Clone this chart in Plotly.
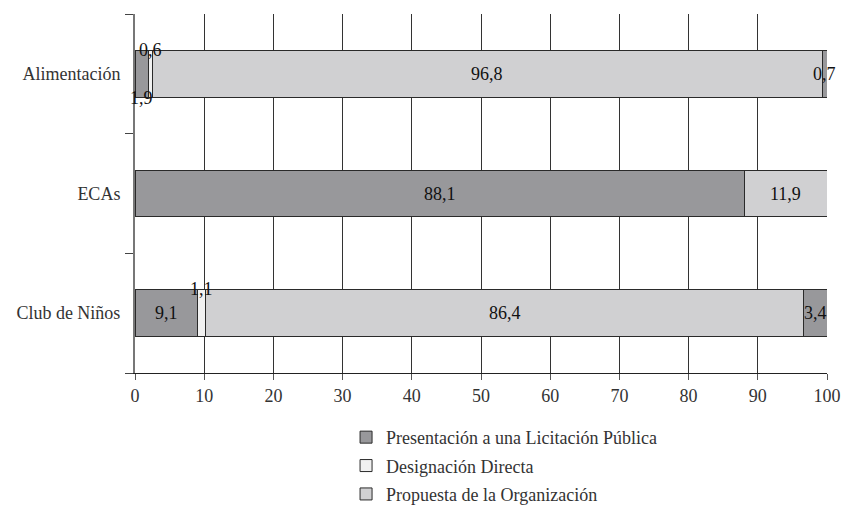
import plotly.graph_objects as go

# Modalidad de asignación por programa (porcentajes)
categories = ["Alimentación", "ECAs", "Club de Niños"]
licitacion = [1.9, 88.1, 9.1]
designacion = [0.6, 0.0, 1.1]
propuesta = [96.8, 11.9, 86.4]
otros = [0.7, 0.0, 3.4]

series = [
    ("Presentación a una Licitación Pública", licitacion, "#98989b", True),
    ("Designación Directa", designacion, "#f1f1f1", True),
    ("Propuesta de la Organización", propuesta, "#d0d0d2", True),
    ("Otros", otros, "#98989b", False),
]

FONT = "Liberation Serif"

fig = go.Figure()
for i, (name, vals, color, show) in enumerate(series):
    fig.add_trace(go.Bar(
        y=categories, x=vals, name=name, orientation="h",
        marker=dict(color=color, line=dict(color="#2a2a2a", width=1)),
        showlegend=show, legendgroup=f"g{i}", hoverinfo="x+name",
    ))

# Value labels: small segments get their label nudged above/below the bar
label_shift = {
    ("Alimentación", 0): -24, ("Alimentación", 1): 24,
    ("Club de Niños", 1): 24,
}
annotations = []
for ci, cat in enumerate(categories):
    start = 0.0
    for si, (name, vals, color, show) in enumerate(series):
        v = vals[ci]
        if v > 0:
            annotations.append(dict(
                x=start + v / 2, y=cat, xref="x", yref="y",
                text=f"{v:.1f}".replace(".", ","), showarrow=False,
                yshift=label_shift.get((cat, si), 0),
                font=dict(family=FONT, size=18, color="#111111"),
            ))
        start += v

fig.update_layout(
    width=845, height=507,
    margin=dict(l=135, r=18, t=14, b=134, autoexpand=False),
    paper_bgcolor="white", plot_bgcolor="white",
    barmode="stack", bargap=0.61,
    font=dict(family=FONT, size=18, color="#222222"),
    annotations=annotations,
    xaxis=dict(
        range=[0, 100], tickvals=list(range(0, 101, 10)),
        showgrid=True, gridcolor="#333333", gridwidth=1,
        showline=True, linecolor="#222222", linewidth=1,
        ticks="outside", ticklen=6, tickcolor="#555555",
        zeroline=False, fixedrange=True, automargin=False,
        tickfont=dict(family=FONT, size=18, color="#333333"),
    ),
    yaxis=dict(
        categoryorder="array", categoryarray=categories[::-1],
        showline=True, linecolor="#777777", linewidth=2,
        ticks="outside", ticklen=8, tickcolor="#444444",
        tickson="boundaries", showgrid=False, fixedrange=True,
        automargin=False, ticklabelstandoff=9,
        tickfont=dict(family=FONT, size=18, color="#333333"),
    ),
    legend=dict(
        orientation="v", x=0.305, xanchor="left", y=-0.128, yanchor="top",
        font=dict(family=FONT, size=18, color="#333333"),
        traceorder="grouped", tracegroupgap=2, itemwidth=30,
    ),
)

fig.write_html("out.html")
